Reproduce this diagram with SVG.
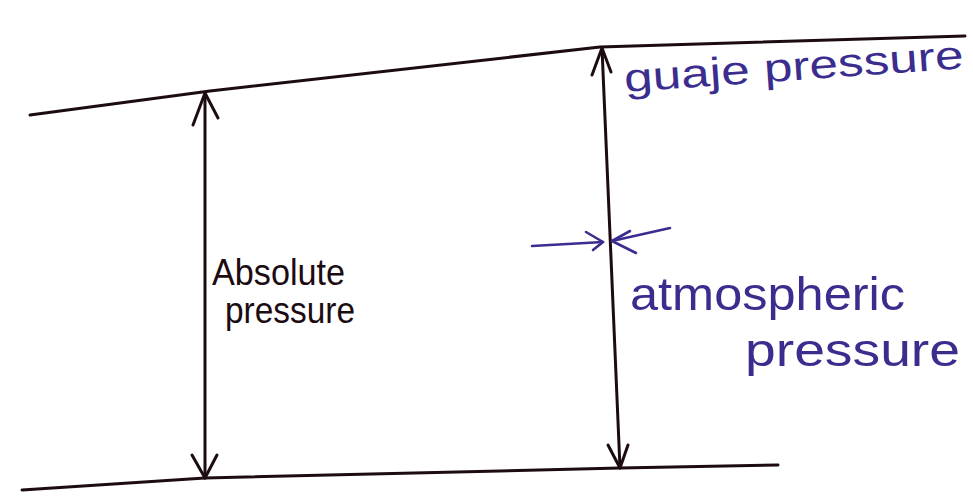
<svg xmlns="http://www.w3.org/2000/svg" width="973" height="496" viewBox="0 0 973 496">
<style>
.ln{fill:none;stroke:#1c0c12;stroke-width:3;stroke-linecap:round;stroke-linejoin:round}
.pl{fill:none;stroke:#3b2d8e;stroke-width:2.6;stroke-linecap:round;stroke-linejoin:round}
.tb{font-family:"Liberation Sans","DejaVu Sans",sans-serif;fill:#1c0c12}
.tp{font-family:"Liberation Sans","DejaVu Sans",sans-serif;fill:#3b2d8e}
</style>
<rect width="973" height="496" fill="#ffffff"/>
<g id="top-line"><path class="ln" d="M30,115 L210,91 L600,47 L965,36"/></g>
<g id="bottom-line"><path class="ln" d="M22,490 L205,478 L620,468 L778,465"/></g>
<g id="connectors">
<g id="absolute-arrow">
<path class="ln" d="M205,93 L205,478"/>
<path class="ln" d="M193,125 L205,93 L218,118"/>
<path class="ln" d="M192,455 L205,478 L217,455"/>
</g>
<g id="gauge-atm-arrow">
<path class="ln" d="M602,48 L620,468"/>
<path class="ln" d="M592,75 L602,48 L611,72"/>
<path class="ln" d="M608,445 L620,468 L628,445"/>
</g>
<g id="atm-marker">
<path class="pl" d="M532,246 L603,242"/>
<path class="pl" d="M586,232 L603,242 L593,250"/>
<path class="pl" d="M670,228 L612,241"/>
<path class="pl" d="M630,231 L612,241 L636,253"/>
</g>
</g>
<g id="label-gauge"><text class="tp" x="625" y="92" font-size="40" textLength="340" lengthAdjust="spacingAndGlyphs" transform="rotate(-4 625 92)">guaje pressure</text></g>
<g id="label-absolute">
<text class="tb" x="212" y="285" font-size="36" textLength="133" lengthAdjust="spacingAndGlyphs">Absolute</text>
<text class="tb" x="225" y="323" font-size="36" textLength="130" lengthAdjust="spacingAndGlyphs">pressure</text>
</g>
<g id="label-atmospheric">
<text class="tp" x="630" y="310" font-size="46" textLength="275" lengthAdjust="spacingAndGlyphs">atmospheric</text>
<text class="tp" x="745" y="366" font-size="46" textLength="215" lengthAdjust="spacingAndGlyphs">pressure</text>
</g>
</svg>
